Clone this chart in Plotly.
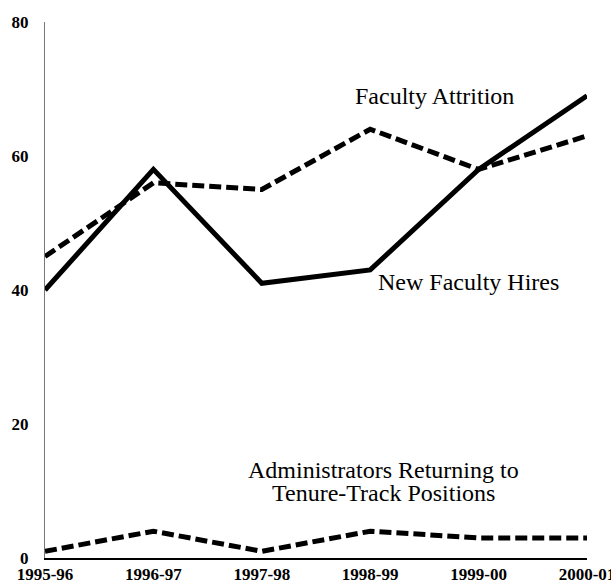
import plotly.graph_objects as go

years = ["1995-96", "1996-97", "1997-98", "1998-99", "1999-00", "2000-01"]
new_hires = [40, 58, 41, 43, 58, 69]
attrition = [45, 56, 55, 64, 58, 63]
admins = [1, 4, 1, 4, 3, 3]
y_ticks = [0, 20, 40, 60, 80]

fig = go.Figure()
fig.add_trace(go.Scatter(x=years, y=attrition, mode="lines",
                         line=dict(color="black", width=5, dash="12px,5px")))
fig.add_trace(go.Scatter(x=years, y=new_hires, mode="lines",
                         line=dict(color="black", width=5)))
fig.add_trace(go.Scatter(x=years, y=admins, mode="lines",
                         line=dict(color="black", width=5, dash="12px,5px")))

ann_font = dict(family="Liberation Serif", size=24, color="black")
fig.add_annotation(x=3.59, y=69.0, text="Faculty Attrition", showarrow=False, font=ann_font)
fig.add_annotation(x=3.91, y=41.2, text="New Faculty Hires", showarrow=False, font=ann_font)
fig.add_annotation(x=3.12, y=13.1, text="Administrators Returning to", showarrow=False, font=ann_font)
fig.add_annotation(x=3.12, y=9.7, text="Tenure-Track Positions", showarrow=False, font=ann_font)

fig.update_layout(
    width=611, height=585,
    margin=dict(l=45, r=24, t=22, b=27),
    paper_bgcolor="white", plot_bgcolor="white",
    showlegend=False,
    xaxis=dict(type="category", range=[0, 5], showgrid=False, zeroline=False,
               automargin=False,
               showline=True, linecolor="black", linewidth=1.5, ticks="",
               tickfont=dict(family="Liberation Serif", size=17, color="black", weight="bold")),
    yaxis=dict(range=[0, 80], tickvals=y_ticks, showgrid=False, zeroline=False,
               automargin=False,
               showline=True, linecolor="#777777", linewidth=1, ticks="",
               ticklabelstandoff=12,
               tickfont=dict(family="Liberation Serif", size=17, color="black", weight="bold")),
)
fig.write_html("out.html", config={"displayModeBar": False},
               post_script="document.body.style.margin='0';document.body.style.overflow='hidden';")
